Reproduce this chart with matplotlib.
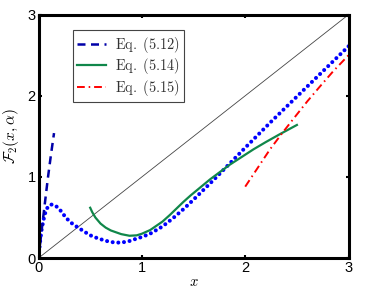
import matplotlib
matplotlib.use("Agg")
import matplotlib.pyplot as plt
import numpy as np

# blue dotted curve (numerical result, no legend entry)
x_num = [0.0, 0.015, 0.03, 0.05, 0.07, 0.09, 0.11, 0.13, 0.15, 0.17, 0.21, 0.27, 0.33,
         0.39, 0.45, 0.51, 0.58, 0.66, 0.72, 0.76, 0.82, 0.88, 0.95, 1.0, 1.08,
         1.2, 1.3, 1.4, 1.5, 1.6, 1.7, 1.8, 1.9, 2.0, 2.25, 2.5, 2.75, 3.0]
y_num = [0.0, 0.2, 0.35, 0.48, 0.58, 0.63, 0.655, 0.66, 0.655, 0.64, 0.59, 0.49, 0.42,
         0.37, 0.32, 0.275, 0.24, 0.21, 0.195, 0.19, 0.195, 0.21, 0.24, 0.26, 0.3,
         0.39, 0.49, 0.6, 0.72, 0.845, 0.97, 1.1, 1.23, 1.36, 1.68, 1.99, 2.3, 2.61]

# Eq. (5.12)
x_512 = [0.0, 0.03, 0.06, 0.09, 0.12, 0.15]
y_512 = [0.0, 0.34, 0.66, 0.98, 1.27, 1.54]

# Eq. (5.14)
x_514 = [0.5, 0.52, 0.55, 0.6, 0.65, 0.7, 0.8, 0.88, 0.95, 1.0, 1.08, 1.2, 1.27,
         1.4, 1.47, 1.66, 1.85, 2.08, 2.2, 2.34, 2.5]
y_514 = [0.62, 0.565, 0.5, 0.425, 0.375, 0.34, 0.295, 0.275, 0.28, 0.3, 0.345, 0.45,
         0.53, 0.69, 0.77, 0.97, 1.15, 1.34, 1.43, 1.53, 1.64]

# Eq. (5.15)
x_515 = [2.0, 2.12, 2.24, 2.355, 2.5, 2.6, 2.72, 2.85, 3.0]
y_515 = [0.88, 1.11, 1.34, 1.535, 1.77, 1.93, 2.11, 2.3, 2.5]

diag = [0, 3]

plt.rcParams['font.family'] = ['Liberation Sans', 'DejaVu Sans']
plt.rcParams['mathtext.fontset'] = 'cm'

fig = plt.figure(figsize=(3.74, 2.98), dpi=100)
ax = fig.add_axes([0.103, 0.134, 0.829, 0.817])

ax.plot(diag, diag, color='#444444', lw=0.6)
ax.plot(x_num, y_num, color='#0000ff', lw=2.9, dashes=(0.01, 1.4),
        dash_capstyle='round', solid_capstyle='round')
l1, = ax.plot(x_512, y_512, color='#0000a8', lw=1.8, dashes=(3.2, 2.2),
              label=r'$\mathrm{Eq.\ (5.12)}$')
l2, = ax.plot(x_514, y_514, color='#10874a', lw=1.6,
              label=r'$\mathrm{Eq.\ (5.14)}$')
l3, = ax.plot(x_515, y_515, color='#ff0000', lw=1.4, dashes=(4, 2, 0.8, 2),
              label=r'$\mathrm{Eq.\ (5.15)}$')

ax.set_xlim(0, 3)
ax.set_ylim(0, 3)
ax.set_xticks([0, 1, 2, 3])
ax.set_yticks([0, 1, 2, 3])
ax.tick_params(direction='in', length=2, width=1.5, top=True, right=True,
               labelsize=10.5, pad=2)
for s in ax.spines.values():
    s.set_linewidth(2.2)

ax.set_xlabel(r'$x$', fontsize=10.5, labelpad=0)
ax.set_ylabel(r'$\mathcal{F}_2(x,\alpha)$', fontsize=11, labelpad=5)

leg = ax.legend(handles=[l1, l2, l3], loc='upper left', bbox_to_anchor=(0.11, 0.935),
                fontsize=10.3, frameon=True, fancybox=False, framealpha=1,
                edgecolor='#444444', handlelength=2.0, handletextpad=0.65,
                labelspacing=0.12, borderpad=0.3, borderaxespad=0)
leg.get_frame().set_linewidth(0.8)
for t in leg.get_texts():
    t.set_color('#333333')

fig.savefig('out.png', dpi=100)
